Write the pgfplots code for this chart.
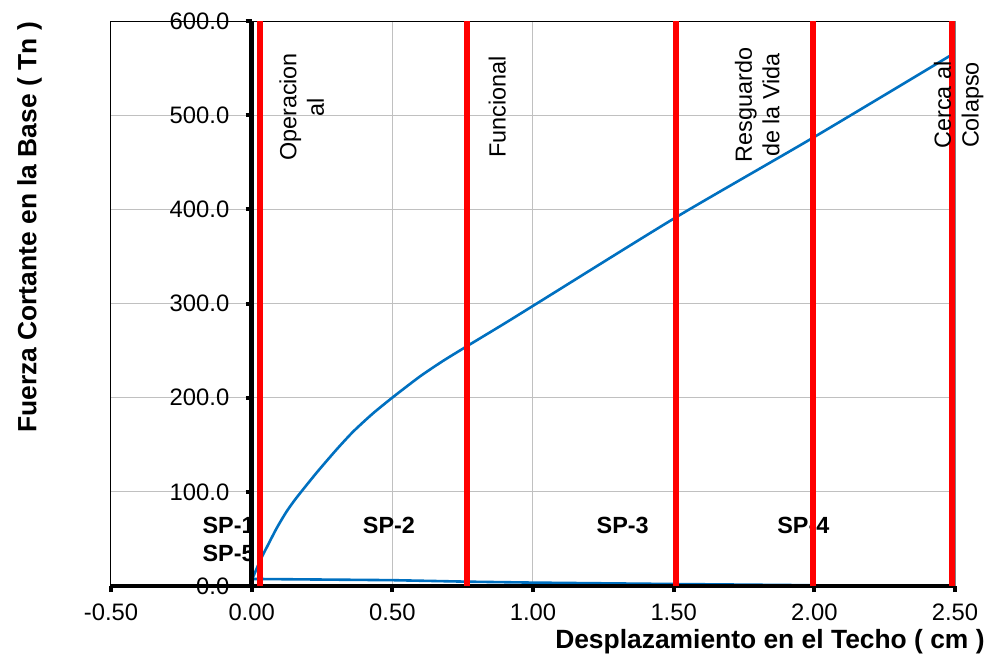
\documentclass[border=0pt]{standalone}
\usepackage{fontspec}
\setmainfont{Liberation Sans}
\usepackage{pgfplots}
\pgfplotsset{compat=1.18}
\definecolor{curveblue}{RGB}{0,112,192}
\definecolor{gridgray}{RGB}{192,192,192}
\definecolor{bordergray}{RGB}{128,128,128}
\begin{document}
\begin{tikzpicture}
\begin{axis}[
  scale only axis, width=422pt, height=282.5pt,
  xmin=-0.5, xmax=2.5, ymin=0, ymax=600,
  xtick={-0.5,0,0.5,1,1.5,2,2.5},
  ytick={0,100,200,300,400,500,600},
  grid=major, grid style={gridgray, line width=0.5pt},
  axis line style={black, line width=0.5pt},
  xtick pos=bottom, ytick pos=left,
  tick align=outside,
  major tick length=3pt,
  every tick/.style={black, line width=2pt},
  y tick style={xshift=70.333pt},
  clip mode=individual,
  xticklabel={\pgfmathprintnumber[fixed,fixed zerofill,precision=2,assume math mode=true]{\tick}},
  xticklabel style={yshift=-2.5pt, font=\fontsize{11.9}{13}\selectfont},
  yticklabels={},
  xlabel={Desplazamiento en el Techo ( cm )},
  xlabel style={font=\bfseries\fontsize{13.2}{15}\selectfont, at={(rel axis cs:1,0)}, anchor=base east, inner sep=0pt, xshift=15pt, yshift=-31pt},
]
\coordinate (O) at (rel axis cs:0,0);
% right border in grey
\draw[bordergray, line width=0.6pt] (rel axis cs:1,0) -- (rel axis cs:1,1);
% capacity curve
\addplot[curveblue, line width=1.3pt, smooth, tension=0.4] coordinates {
 (0,6) (0.02,20) (0.034,29.4) (0.058,43.6) (0.09,62) (0.124,79) (0.159,93.6)
 (0.23,120) (0.302,145) (0.361,164) (0.43,183) (0.504,201) (0.599,222.7)
 (0.68,239) (0.765,254.6) (0.9,279) (1.027,302.5) (1.508,391.5) (1.995,476) (2.482,563)
};
% lower line
\addplot[curveblue, line width=1.3pt] coordinates {
 (0,7.5) (0.5,6.2) (0.766,4.6) (1.0,3.6) (1.5,2.1) (2.0,0.8)
};
% y tick labels at the x=0 axis
\node[anchor=east, inner sep=0pt, xshift=-11pt, font=\fontsize{11.9}{13}\selectfont] at (axis cs:0,0) {0.0};
\node[anchor=east, inner sep=0pt, xshift=-11pt, font=\fontsize{11.9}{13}\selectfont] at (axis cs:0,100) {100.0};
\node[anchor=east, inner sep=0pt, xshift=-11pt, font=\fontsize{11.9}{13}\selectfont] at (axis cs:0,200) {200.0};
\node[anchor=east, inner sep=0pt, xshift=-11pt, font=\fontsize{11.9}{13}\selectfont] at (axis cs:0,300) {300.0};
\node[anchor=east, inner sep=0pt, xshift=-11pt, font=\fontsize{11.9}{13}\selectfont] at (axis cs:0,400) {400.0};
\node[anchor=east, inner sep=0pt, xshift=-11pt, font=\fontsize{11.9}{13}\selectfont] at (axis cs:0,500) {500.0};
\node[anchor=east, inner sep=0pt, xshift=-11pt, font=\fontsize{11.9}{13}\selectfont] at (axis cs:0,600) {600.0};
% zone labels
\node[font=\bfseries\fontsize{11.7}{13}\selectfont] at (axis cs:-0.082,64.8) {SP-1};
\node[font=\bfseries\fontsize{11.7}{13}\selectfont] at (axis cs:-0.082,35) {SP-5};
\node[font=\bfseries\fontsize{11.7}{13}\selectfont] at (axis cs:0.488,64.8) {SP-2};
\node[font=\bfseries\fontsize{11.7}{13}\selectfont] at (axis cs:1.319,64.8) {SP-3};
\node[font=\bfseries\fontsize{11.7}{13}\selectfont] at (axis cs:1.961,64.8) {SP-4};
% thick axes
\draw[black, line width=2.2pt] (axis cs:0,0) -- (axis cs:0,600);
\draw[black, line width=2.2pt] (axis cs:-0.5,0) -- (axis cs:2.5,0);
% performance levels
\addplot[red, line width=3pt] coordinates {(0.029,0) (0.029,600)};
\addplot[red, line width=3pt] coordinates {(0.766,0) (0.766,600)};
\addplot[red, line width=3pt] coordinates {(1.507,0) (1.507,600)};
\addplot[red, line width=3pt] coordinates {(1.997,0) (1.997,600)};
\addplot[red, line width=3pt] coordinates {(2.491,0) (2.491,600)};
\node[rotate=90, align=center, font=\fontsize{11.7}{13.8}\selectfont] at (axis cs:0.178,508.7) {Operacion\\al};
\node[rotate=90, align=center, font=\fontsize{11.7}{13.8}\selectfont] at (axis cs:0.873,509) {Funcional};
\node[rotate=90, align=center, font=\fontsize{11.7}{13.8}\selectfont] at (axis cs:1.797,510.8) {Resguardo\\de la Vida};
\node[rotate=90, align=center, font=\fontsize{11.7}{13.8}\selectfont] at (axis cs:2.513,510.8) {Cerca al\\Colapso};
% y axis title
\node[xshift=-37.25pt, rotate=90, anchor=base, inner sep=0pt, font=\bfseries\fontsize{13.2}{15}\selectfont] at (rel axis cs:0,0.6345) {Fuerza Cortante en la Base ( Tn )};
\end{axis}
\pgfresetboundingbox
\path (O) ++(-55.5pt,-37pt) rectangle ++(496pt,330pt);
\end{tikzpicture}
\end{document}
